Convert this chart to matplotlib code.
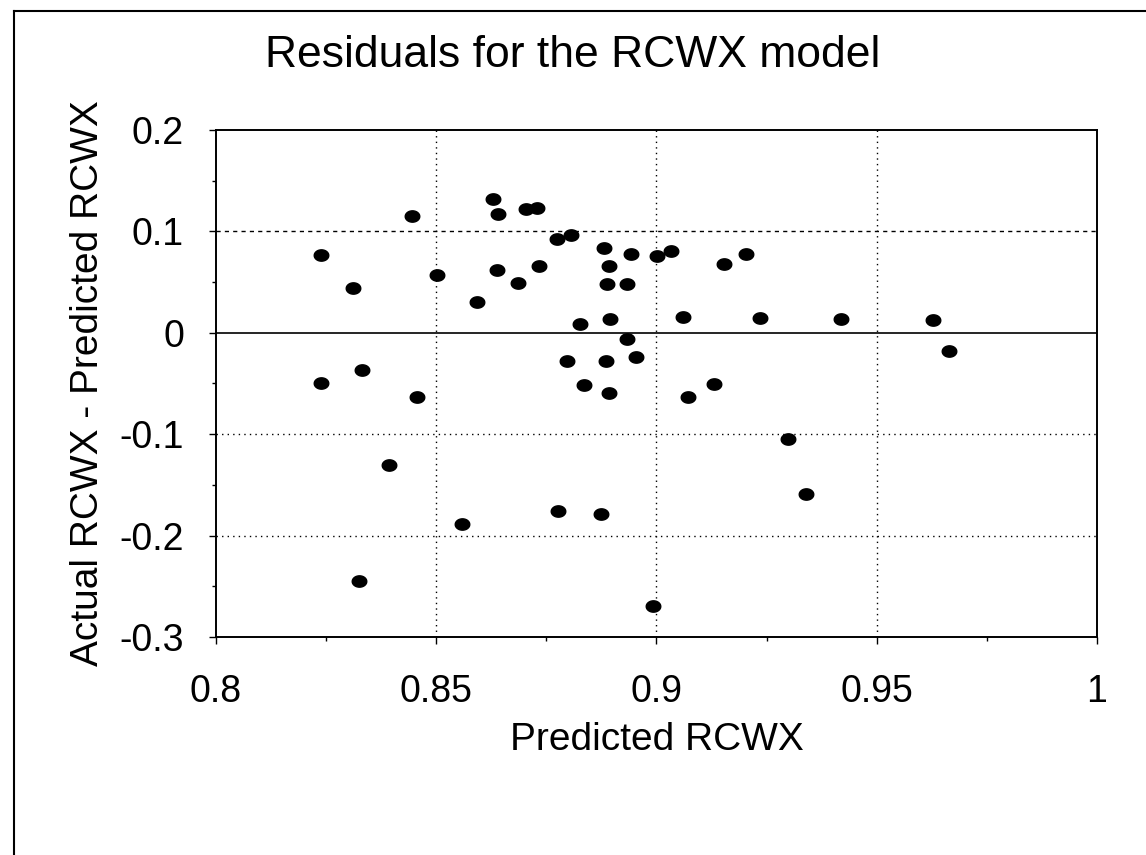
import matplotlib.pyplot as plt
import numpy as np
from matplotlib.path import Path
from matplotlib.lines import Line2D

plt.rcParams['font.family'] = ['Liberation Sans', 'DejaVu Sans']

# predicted RCWX and residuals (actual - predicted)
predicted = [
    0.8238, 0.8312, 0.8446, 0.8501, 0.8592, 0.8629, 0.8641, 0.8637,
    0.8686, 0.8704, 0.8728, 0.8734, 0.8238, 0.8331, 0.8456, 0.8393,
    0.8325, 0.8559, 0.8773, 0.8807, 0.8881, 0.8943, 0.8892, 0.8888,
    0.8934, 0.8827, 0.8894, 0.9001, 0.9034, 0.9154, 0.9204, 0.9060,
    0.9235, 0.9419, 0.9628, 0.8932, 0.9664, 0.8796, 0.8886, 0.8954,
    0.8835, 0.9131, 0.8892, 0.9072, 0.9299, 0.9340, 0.8776, 0.8875,
    0.8993,
]
residual = [
    0.0763, 0.0441, 0.1148, 0.0573, 0.0303, 0.1320, 0.1175, 0.0615,
    0.0490, 0.1224, 0.1231, 0.0655, -0.0497, -0.0372, -0.0635, -0.1303,
    -0.2445, -0.1886, 0.0925, 0.0967, 0.0836, 0.0780, 0.0661, 0.0480,
    0.0480, 0.0086, 0.0138, 0.0760, 0.0803, 0.0678, 0.0776, 0.0155,
    0.0145, 0.0138, 0.0128, -0.0059, -0.0178, -0.0276, -0.0276, -0.0240,
    -0.0513, -0.0503, -0.0595, -0.0635, -0.1050, -0.1590, -0.1754, -0.1787,
    -0.2695,
]

x_ticks = [0.8, 0.85, 0.9, 0.95, 1.0]
x_labels = ["0.8", "0.85", "0.9", "0.95", "1"]
y_ticks = [-0.3, -0.2, -0.1, 0, 0.1, 0.2]
y_labels = ["-0.3", "-0.2", "-0.1", "0", "0.1", "0.2"]

# slightly flattened dot like the original
t = np.linspace(0, 2 * np.pi, 40)
ellipse = Path(np.column_stack([np.cos(t), 0.78 * np.sin(t)]), closed=True)

fig = plt.figure(figsize=(11.46, 8.55), dpi=100)
ax = fig.add_axes([0.1885, 0.2550, 0.7687, 0.5930])

ax.set_xlim(0.8, 1.0)
ax.set_ylim(-0.3, 0.2)

for x in x_ticks[1:-1]:
    ax.axvline(x, color='black', lw=1.0, ls=(0, (1, 3)), zorder=1)
for y in [-0.2, -0.1]:
    ax.axhline(y, color='black', lw=1.0, ls=(0, (1, 3)), zorder=1)
ax.axhline(0.1, color='black', lw=1.0, ls=(0, (3, 3)), zorder=1)
ax.axhline(0, color='black', lw=1.2, zorder=1)

ax.scatter(predicted, residual, marker=ellipse, s=110, color='black', zorder=3)

ax.set_xticks(x_ticks)
ax.set_xticklabels(x_labels)
ax.set_yticks(y_ticks)
ax.set_yticklabels(y_labels)
ax.set_xticks(np.arange(0.825, 1.0, 0.05), minor=True)
ax.set_yticks([-0.25, -0.15, -0.05, 0.05, 0.15], minor=True)
ax.tick_params(which='major', direction='out', length=5, width=1,
               labelsize=27, pad=22)
ax.tick_params(axis='y', which='major', pad=18)
ax.tick_params(which='minor', direction='out', length=3, width=1)

for s in ax.spines.values():
    s.set_linewidth(1.4)

ax.set_xlabel("Predicted RCWX", fontsize=28, labelpad=8)
ax.set_ylabel("Actual RCWX - Predicted RCWX", fontsize=28, labelpad=10)

fig.text(0.5, 1 - 67 / 855, "Residuals for the RCWX model",
         fontsize=32, ha='center', va='baseline')

# border of the chart area (top and left edges show in the original)
fig.add_artist(Line2D([14 / 1146, 14 / 1146], [0, 1 - 11 / 855],
                      transform=fig.transFigure, color='black', lw=1.5))
fig.add_artist(Line2D([14 / 1146, 1], [1 - 11 / 855, 1 - 11 / 855],
                      transform=fig.transFigure, color='black', lw=1.5))

fig.savefig("out.png", dpi=100)
